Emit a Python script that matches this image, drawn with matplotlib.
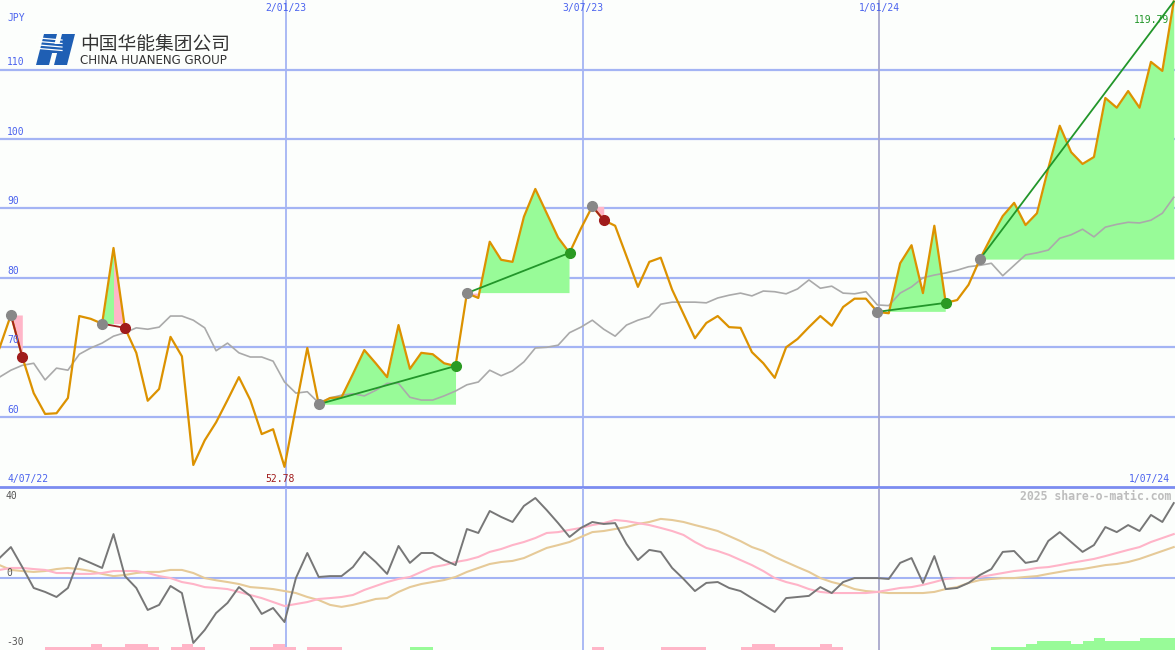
import matplotlib
matplotlib.use("Agg")
import matplotlib.pyplot as plt
import numpy as np
import pandas as pd
from matplotlib.patches import Polygon
from matplotlib.transforms import blended_transform_factory as blend

# weekly closes, first one shown
start = pd.Timestamp("2022-07-10")

price = [69.9, 74.65, 68.6, 63.4, 60.4, 60.5, 62.7, 74.5, 74.1, 73.4,
         84.3, 72.8, 69.2, 62.3, 64.0, 71.5, 68.7, 53.05, 56.6, 59.2,
         62.4, 65.7, 62.4, 57.5, 58.2, 52.78, 61.4, 69.9, 61.8, 62.7,
         62.8, 66.15, 69.6, 67.7, 65.7, 73.2, 66.9, 69.2, 69.0, 67.7,
         67.3, 77.8, 77.1, 85.2, 82.6, 82.3, 88.8, 92.8, 89.3, 85.8,
         83.6, 87.1, 90.3, 88.3, 87.5, 83.1, 78.7, 82.3, 82.9, 78.3,
         74.8, 71.3, 73.5, 74.5, 72.9, 72.8, 69.3, 67.7, 65.6, 70.0,
         71.2, 72.9, 74.5, 73.1, 75.8, 77.0, 77.0, 75.1, 74.9, 82.1,
         84.7, 77.8, 87.5, 76.4, 76.8, 79.0, 82.7, 85.9, 88.9, 90.8,
         87.6, 89.3, 95.8, 101.9, 98.1, 96.4, 97.4, 105.9, 104.5, 106.9,
         104.5, 111.1, 109.8, 119.79]

avg = [65.7, 66.7, 67.4, 67.7, 65.3, 67.0, 66.7, 69.0, 69.9, 70.6,
       71.6, 72.1, 72.8, 72.6, 72.9, 74.5, 74.5, 73.9, 72.8, 69.5,
       70.6, 69.2, 68.6, 68.6, 68.0, 65.0, 63.4, 63.6, 62.0, 62.7,
       63.1, 63.3, 63.0, 63.8, 64.8, 64.8, 62.8, 62.4, 62.4, 63.0,
       63.7, 64.6, 65.0, 66.7, 65.9, 66.6, 67.9, 69.9, 70.0, 70.3,
       72.1, 72.9, 73.9, 72.6, 71.6, 73.2, 73.9, 74.4, 76.2, 76.5,
       76.5, 76.5, 76.4, 77.1, 77.5, 77.8, 77.4, 78.1, 78.0, 77.7,
       78.4, 79.7, 78.5, 78.8, 77.8, 77.7, 78.0, 76.1, 76.0, 77.8,
       78.7, 80.0, 80.4, 80.7, 81.1, 81.6, 81.8, 82.1, 80.3, 81.8,
       83.3, 83.6, 84.0, 85.7, 86.2, 87.0, 85.9, 87.3, 87.7, 88.0,
       87.9, 88.3, 89.3, 91.6]

mom = [9.2, 14.2, 5.1, -4.4, -6.2, -8.5, -4.4, 9.2, 7.0, 4.7,
       20.1, 1.0, -4.4, -14.4, -12.1, -3.5, -6.7, -29.4, -23.5, -15.8,
       -11.2, -4.0, -8.0, -16.2, -13.5, -19.9, 0.1, 11.5, 0.6, 1.0,
       1.0, 5.1, 12.0, 7.4, 2.0, 14.7, 7.0, 11.5, 11.5, 8.3,
       6.0, 22.4, 20.6, 30.6, 27.9, 25.6, 32.9, 36.5, 31.0, 25.1,
       18.8, 22.9, 25.6, 24.7, 25.1, 15.6, 8.3, 12.9, 12.0, 4.7,
       -0.3, -5.8, -2.1, -1.7, -4.4, -5.8, -9.0, -12.1, -15.3, -9.0,
       -8.5, -8.0, -4.0, -6.7, -1.7, 0.1, 0.1, 0.1, -0.3, 7.0,
       9.2, -2.1, 10.1, -4.9, -4.4, -2.1, 1.5, 4.2, 12.0, 12.4,
       7.0, 7.9, 17.0, 21.0, 16.5, 12.0, 15.1, 23.3, 21.0, 24.2,
       21.5, 28.8, 25.6, 34.2]

mom_fast = [3.8, 4.7, 4.7, 4.2, 3.8, 2.4, 2.4, 2.0, 2.0, 2.4,
            3.3, 3.3, 3.3, 2.4, 1.0, 0.1, -1.7, -2.6, -4.0, -4.4,
            -4.9, -6.2, -7.6, -9.0, -10.8, -12.6, -11.7, -10.8, -9.4, -9.0,
            -8.5, -7.6, -5.3, -3.5, -1.7, -0.3, 0.6, 2.9, 5.1, 6.0,
            7.4, 8.3, 9.7, 12.0, 13.3, 15.1, 16.5, 18.3, 20.6, 21.0,
            22.0, 22.9, 24.2, 25.1, 26.5, 26.0, 25.1, 24.2, 22.9, 21.5,
            19.7, 16.5, 13.8, 12.4, 10.6, 8.3, 6.0, 3.3, 0.1, -1.7,
            -3.0, -4.9, -6.2, -6.7, -6.7, -6.7, -6.7, -6.2, -5.3, -4.4,
            -4.0, -3.0, -1.7, -0.3, 0.1, 0.1, 0.6, 1.5, 2.4, 3.3,
            3.8, 4.7, 5.1, 6.0, 7.0, 7.9, 8.8, 10.1, 11.5, 12.9,
            14.2, 16.5, 18.3, 20.1]

mom_slow = [6.0, 3.8, 3.3, 2.9, 3.3, 4.2, 4.7, 4.2, 3.3, 2.0,
            1.0, 1.5, 2.4, 2.9, 2.9, 3.8, 3.8, 2.4, 0.1, -0.9,
            -1.7, -2.6, -4.0, -4.4, -4.9, -5.8, -6.7, -8.5, -9.9, -12.1,
            -13.0, -12.1, -10.8, -9.4, -9.0, -6.2, -4.0, -2.6, -1.7, -0.8,
            0.6, 2.9, 4.7, 6.5, 7.4, 7.9, 9.2, 11.5, 13.8, 15.1,
            16.5, 18.8, 21.0, 21.5, 22.4, 23.3, 24.7, 25.6, 27.0, 26.5,
            25.6, 24.2, 22.9, 21.5, 19.2, 16.9, 14.2, 12.4, 9.7, 7.4,
            5.1, 2.9, 0.1, -1.7, -3.0, -4.9, -5.8, -6.2, -6.7, -6.7,
            -6.7, -6.7, -6.2, -4.9, -4.0, -2.1, -0.8, -0.3, 0.1, 0.1,
            0.6, 1.0, 2.0, 2.9, 3.8, 4.2, 5.1, 6.0, 6.5, 7.4,
            8.8, 10.6, 12.4, 14.2]

# histogram steps at the foot of the oscillator (+ green, - pink)
hist = [0, 0, 0, 0, -1, -1, -1, -1, -2, -1,
        -1, -2, -2, -1, 0, -1, -2, -1, 0, 0,
        0, 0, -1, -1, -2, -1, 0, -1, -1, -1,
        0, 0, 0, 0, 0, 0, 1, 1, 0, 0,
        0, 0, 0, 0, 0, 0, 0, 0, 0, 0,
        0, 0, -1, 0, 0, 0, 0, 0, -1, -1,
        -1, -1, 0, 0, 0, -1, -2, -2, -1, -1,
        -1, -1, -2, -1, 0, 0, 0, 0, 0, 0,
        0, 0, 0, 0, 0, 0, 0, 1, 1, 1,
        2, 3, 3, 3, 2, 3, 4, 3, 3, 3,
        4, 4, 4, 4]

buy_idx = [1, 9, 28, 41, 52, 77, 86]
sell_idx = [2, 11, 40, 50, 53, 83, 103]
still_open = [False, False, False, False, False, False, True]

price_ticks = [60, 70, 80, 90, 100, 110]
osc_ticks = [40, 0, -30]
date_marks = ["2023-01-02", "2023-07-03", "2024-01-01"]
date_text = ["2/01/23", "3/07/23", "1/01/24"]

W, H = 1175, 650
BG = "#fcfefc"
GRID = "#a4b4f4"
BLUE_TXT = "#4a62ee"
GREEN = "#98fb98"
PINK = "#ffb6c8"

plt.rcParams['font.family'] = ['DejaVu Sans Mono']

k = np.arange(len(price))
pr = np.array(price)

fig = plt.figure(figsize=(W / 100, H / 100), dpi=100, facecolor=BG)
ax = fig.add_axes([0, 163 / H, 1, 487 / H])
ax2 = fig.add_axes([0, 0, 1, 162 / H])
for a in (ax, ax2):
    a.set_facecolor(BG)
    a.set_xlim(0.044, 103.11)
    a.axis("off")
ax.set_ylim(49.88, 120.01)
ax2.set_ylim(-32.6, 41.05)

# grid
for t in price_ticks:
    ax.axhline(t, color=GRID, lw=1.6, zorder=1)
    ax.text(7 / W, t + 0.3, str(t), transform=blend(ax.transAxes, ax.transData),
            color=BLUE_TXT, fontsize=7, va="bottom", ha="left", zorder=8)
date_pos = [(pd.Timestamp(d) - start).days / 7 for d in date_marks]
for i, (x, s) in enumerate(zip(date_pos, date_text)):
    c = "#a8a8cc" if i == 2 else GRID
    ax.axvline(x, color=c, lw=1.3, zorder=1)
    ax2.axvline(x, color=c, lw=1.3, zorder=1)
    ax.text(x, 1 - 8 / 487, s, transform=blend(ax.transData, ax.transAxes),
            color=BLUE_TXT, fontsize=7, ha="center", va="center", zorder=8)
ax.axhline(ax.get_ylim()[0], color="#7b8cf0", lw=2, zorder=7, clip_on=False)

# trades
for b, s, op in zip(buy_idx, sell_idx, still_open):
    lvl = price[b]
    win = op or price[s] >= lvl
    end = s if win else s - 1
    seg, p = k[b:end + 1], pr[b:end + 1]
    if len(seg) > 1:
        ax.fill_between(seg, p, lvl, where=p >= lvl, interpolate=True, color=GREEN, lw=0, zorder=2)
        ax.fill_between(seg, p, lvl, where=p < lvl, interpolate=True, color=PINK, lw=0, zorder=2)
    if not win:
        ax.fill_between(k[s - 1:s + 1], pr[s - 1:s + 1], lvl, color=PINK, lw=0, zorder=2)
    ax.plot([b, s], [lvl, price[s]], color="#22962a" if win else "#a02020", lw=1.3, zorder=5)
    ax.plot(b, lvl, "o", color="#888888", ms=7, zorder=6)
    if not op:
        ax.plot(s, price[s], "o", color="#2a9a22" if win else "#a01c1c", ms=7, zorder=6)

ax.plot(k, avg, color="#aaaaaa", lw=1.2, zorder=3)
ax.plot(k, price, color="#dc9200", lw=1.6, zorder=4)

ax.text(7 / W, 1 - 18 / 487, "JPY", transform=ax.transAxes, color=BLUE_TXT, fontsize=7, va="center")
ax.text(7 / W, 8 / 487, "4/07/22", transform=ax.transAxes, color=BLUE_TXT, fontsize=7, va="center")
ax.text(1 - 5 / W, 8 / 487, "1/07/24", transform=ax.transAxes, color=BLUE_TXT, fontsize=7,
        va="center", ha="right")
imax, imin = int(np.argmax(pr)), int(np.argmin(pr))
ax.text(imax - 0.45, 1 - 20 / 487, f"{price[imax]:.2f}", transform=blend(ax.transData, ax.transAxes),
        color="#22962a", fontsize=7, ha="right", va="center", zorder=8)
ax.text(imin - 0.4, 8 / 487, f"{price[imin]:.2f}", transform=blend(ax.transData, ax.transAxes),
        color="#a01c1c", fontsize=7, ha="center", va="center", zorder=8)

# oscillator
ax2.axhline(0, color=GRID, lw=1.5, zorder=1)
lo = ax2.get_ylim()[0]
step = 3 / 2.2
hv = np.array(hist)
ax2.bar(k, np.abs(hv) * step, bottom=lo, width=1, align="edge",
        color=np.where(hv > 0, GREEN, PINK), lw=0, zorder=2)
ax2.plot(k, mom_slow, color="#e6ca98", lw=1.5, zorder=3)
ax2.plot(k, mom_fast, color="#ffb4c8", lw=1.5, zorder=3)
ax2.plot(k, mom, color="#777777", lw=1.4, zorder=4)
for t in osc_ticks:
    ty = {40: 1 - 8 / 162, 0: 1 - 85 / 162, -30: 8 / 162}[t]
    ax2.text(6 / W, ty, str(t), transform=ax2.transAxes, color="#555555", fontsize=7, va="center")
ax2.text(1 - 4 / W, 1 - 8 / 162, "2025 share-o-matic.com", transform=ax2.transAxes,
         color="#bdbdbd", fontsize=8.3, fontweight="bold", ha="right", va="center")

# logo
def fp(x, y):
    return (x / W, 1 - y / H)

logo_blue = "#1f5fb4"
for poly in ([(44, 34), (57, 34), (49, 65), (36, 65)],
             [(62, 34), (75, 34), (67, 65), (54, 65)],
             [(50, 44), (64, 44), (62, 53), (48, 53)]):
    fig.add_artist(Polygon([fp(*q) for q in poly], closed=True, transform=fig.transFigure,
                           color=logo_blue, lw=0))
for yy in (38, 41.5, 45, 48.5):
    fig.add_artist(plt.Line2D([fp(39, yy)[0], fp(62, yy + 2)[0]], [fp(0, yy)[1], fp(0, yy + 2)[1]],
                              transform=fig.transFigure, color="white", lw=0.9))
fig.text(*fp(80, 44), "中国华能集团公司", fontsize=13.5, color="#333333", va="center",
         family=["Noto Sans CJK SC", "DejaVu Sans"])
fig.text(*fp(80, 60), "CHINA HUANENG GROUP", fontsize=8.6, color="#333333", va="center",
         family=["DejaVu Sans"])

fig.savefig("out.png", dpi=100, facecolor=BG)
